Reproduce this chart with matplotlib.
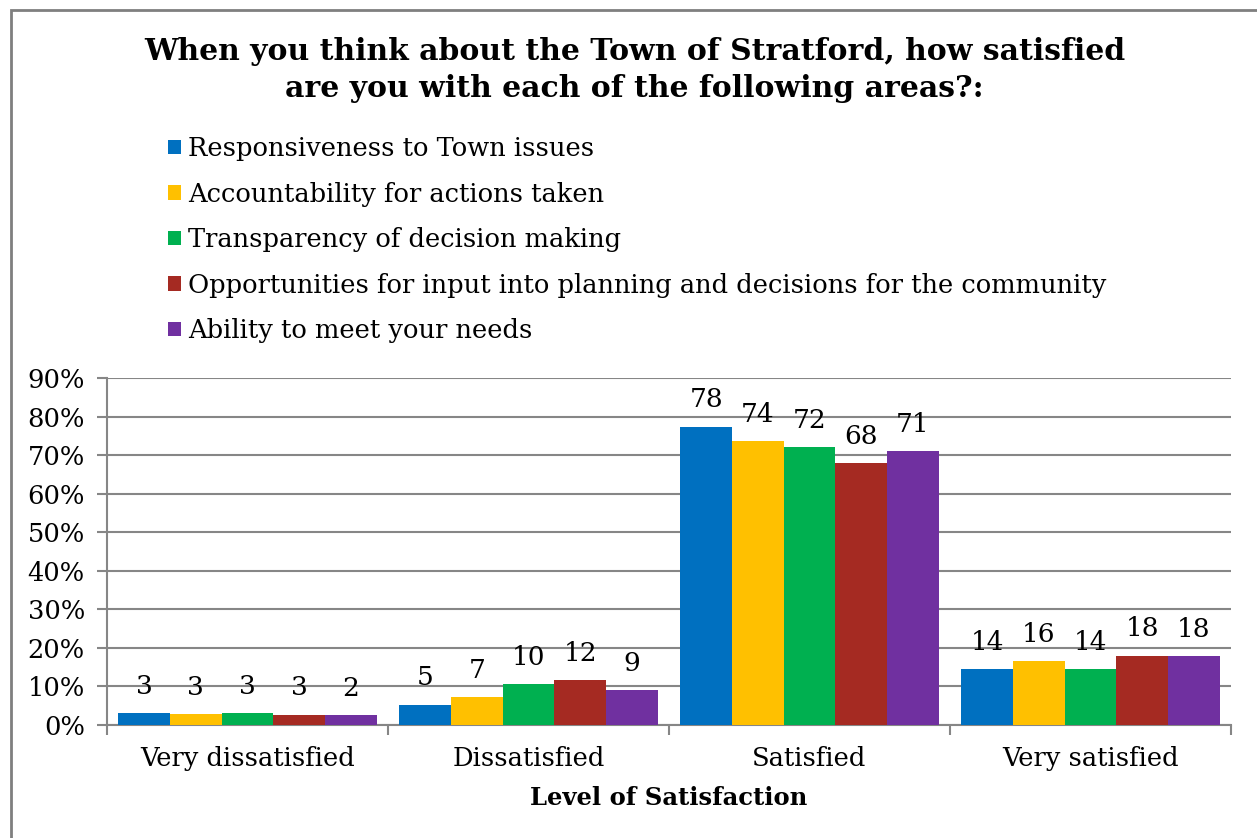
import numpy as np
import matplotlib.pyplot as plt
from matplotlib.patches import Rectangle, Patch

# Survey results (percent of respondents)
categories = ['Very dissatisfied', 'Dissatisfied', 'Satisfied', 'Very satisfied']
series_names = [
    'Responsiveness to Town issues',
    'Accountability for actions taken',
    'Transparency of decision making',
    'Opportunities for input into planning and decisions for the community',
    'Ability to meet your needs',
]
responsiveness = [3.1, 5.3, 77.3, 14.5]
accountability = [2.8, 7.2, 73.6, 16.5]
transparency = [3.1, 10.6, 72.1, 14.4]
opportunities = [2.7, 11.6, 67.9, 17.9]
ability = [2.5, 9.0, 71.0, 17.8]
labels = [
    [3, 5, 78, 14],
    [3, 7, 74, 16],
    [3, 10, 72, 14],
    [3, 12, 68, 18],
    [2, 9, 71, 18],
]
y_ticks = [0, 10, 20, 30, 40, 50, 60, 70, 80, 90]

colors = ['#0070C0', '#FFC000', '#00B050', '#A52A22', '#7030A0']
series = [responsiveness, accountability, transparency, opportunities, ability]

plt.rcParams['font.family'] = ['DejaVu Serif']

W, H = 1257, 838
fig = plt.figure(figsize=(W / 100, H / 100), dpi=100)

# grey frame around the chart (right and bottom fall outside the picture)
fig.patches.append(Rectangle((11 / W, -0.1), 1.1, (H - 10) / H + 0.1, transform=fig.transFigure,
                             fill=False, edgecolor='#7f7f7f', linewidth=2))

ax = fig.add_axes([107 / W, (H - 725) / H, 1124 / W, 347 / H])

x = np.arange(len(categories))
bar_w = 0.184
for i, (vals, c) in enumerate(zip(series, colors)):
    pos = x - 2 * bar_w + i * bar_w
    ax.bar(pos, vals, width=bar_w, color=c, zorder=3, label=series_names[i])
    # data labels sit a fixed distance above each bar, like the Excel original
    for p, v, lab in zip(pos, vals, labels[i]):
        ax.annotate(str(lab), (p, v), xytext=(0, 27), textcoords='offset pixels',
                    ha='center', va='center', fontsize=19, color='black', zorder=4)

ax.set_xlim(-0.5, 3.5)
ax.set_ylim(0, 90)
ax.set_yticks(y_ticks)
ax.set_yticklabels([f'{t}%' for t in y_ticks], fontsize=18.5)
ax.yaxis.grid(True, color='#868686', linewidth=1.5, zorder=0)

# major ticks mark the category borders, minor ticks carry the names
ax.set_xticks([-0.5, 0.5, 1.5, 2.5, 3.5])
ax.set_xticklabels([])
ax.set_xticks(x, minor=True)
ax.set_xticklabels(categories, minor=True, fontsize=18.5)
ax.tick_params(axis='x', which='minor', length=0, pad=15)
ax.tick_params(axis='x', which='major', length=7, color='#868686', width=1.5)
ax.tick_params(axis='y', length=7, color='#868686', width=1.5, pad=9)

for s in ['top', 'right']:
    ax.spines[s].set_visible(False)
for s in ['left', 'bottom']:
    ax.spines[s].set_color('#868686')
    ax.spines[s].set_linewidth(1.5)

ax.set_xlabel('Level of Satisfaction', fontsize=17.5, fontweight='bold', labelpad=11)

fig.text(0.505, (H - 70) / H, 'When you think about the Town of Stratford, how satisfied\nare you with each of the following areas?:',
         ha='center', va='center', fontsize=21.5, fontweight='bold', linespacing=1.37)

handles = [Patch(facecolor=c) for c in colors]
fig.legend(handles, series_names, loc='upper left', bbox_to_anchor=(168 / W, (H - 136) / H),
           frameon=False, fontsize=18.5, handlelength=0.5, handleheight=0.5, handletextpad=0.27,
           labelspacing=0.8, borderaxespad=0, borderpad=0)

fig.savefig('out.png', dpi=100)
